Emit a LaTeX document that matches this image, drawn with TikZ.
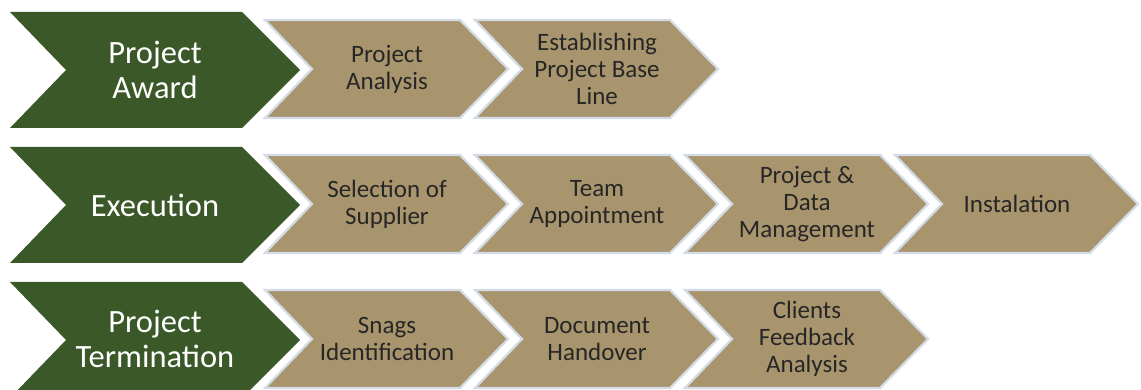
\documentclass[tikz,border=0pt]{standalone}
\usepackage{fontspec}
\setmainfont{Carlito}
\definecolor{greenc}{HTML}{3B5829}
\definecolor{tanc}{HTML}{A8956D}
\definecolor{edgec}{HTML}{D3DBE6}
\definecolor{txtc}{HTML}{262626}
\tikzset{
  x=1pt, y=-1pt,
  greenchev/.pic={\path[fill=greenc] (0,0) -- (232,0) -- (290,58) -- (232,116) -- (0,116) -- (56,58) -- cycle;},
  tanchev/.pic={\path[fill=tanc, draw=edgec, line width=2.2pt, line join=miter] (0,0) -- (195,0) -- (243,49) -- (195,98) -- (0,98) -- (47,49) -- cycle;},
  gtext/.style={align=center, text=white, font=\fontsize{32.5}{34.5}\selectfont, inner sep=0pt},
  ttext/.style={align=center, text=txtc, font=\fontsize{25}{27}\selectfont, inner sep=0pt}
}
\begin{document}
\begin{tikzpicture}
\useasboundingbox[fill=white] (0,0) rectangle (1141,390);
% row 1
\pic at (10,12) {greenchev};
\pic at (265,20) {tanchev};
\pic at (475,20) {tanchev};
\node[gtext] (pa) at (155,70) {Project\\Award};
\node[ttext] (a1) at (387,69) {Project\\Analysis};
\node[ttext] (a2) at (597,69) {Establishing\\Project Base\\Line};
% row 2
\pic at (10,147) {greenchev};
\pic at (265,155) {tanchev};
\pic at (475,155) {tanchev};
\pic at (685,155) {tanchev};
\pic at (895,155) {tanchev};
\node[gtext] (ex) at (155,205) {Execution};
\node[ttext] (b1) at (387,204) {Selection of\\Supplier};
\node[ttext] (b2) at (597,204) {Team\\Appointment};
\node[ttext] (b3) at (807,204) {Project \&\\Data\\Management};
\node[ttext] (b4) at (1017,204) {Instalation};
% row 3
\pic at (10,282) {greenchev};
\pic at (265,290) {tanchev};
\pic at (475,290) {tanchev};
\pic at (685,290) {tanchev};
\node[gtext] (pt) at (155,339) {Project\\Termination};
\node[ttext] (c1) at (387,339) {Snags\\Identification};
\node[ttext] (c2) at (597,339) {Document\\Handover};
\node[ttext] (c3) at (807,339) {Clients\\Feedback\\Analysis};
\end{tikzpicture}
\end{document}
